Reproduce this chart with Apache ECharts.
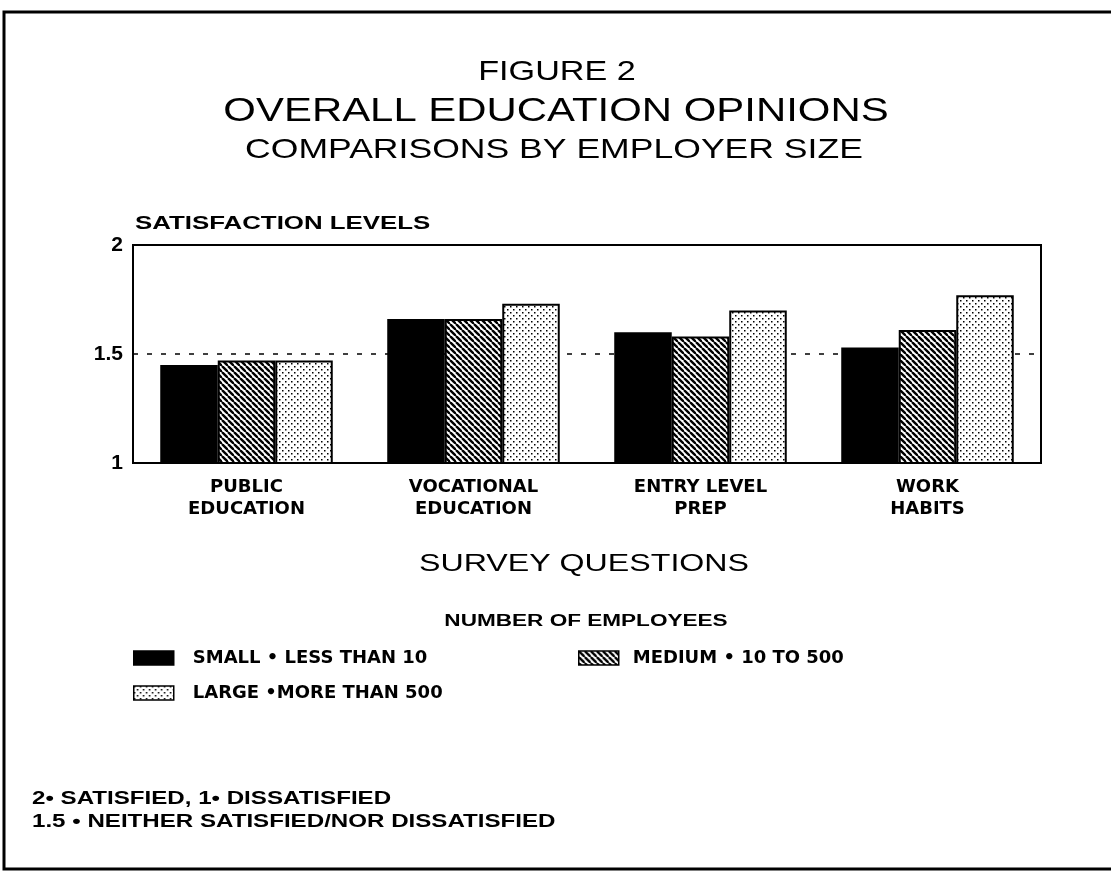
<!DOCTYPE html>
<html>
<head>
<meta charset="utf-8">
<script src="https://cdn.jsdelivr.net/npm/echarts@6/dist/echarts.min.js"></script>
<style>
  html, body { margin: 0; padding: 0; background: #fff; }
  #chart { width: 1111px; height: 872px; }
</style>
</head>
<body>
<div id="chart"></div>
<script>
// survey questions and mean satisfaction by employer size
var categories = ['PUBLIC\nEDUCATION', 'VOCATIONAL\nEDUCATION', 'ENTRY LEVEL\nPREP', 'WORK\nHABITS'];
var seriesNames = ['SMALL \u2022 LESS THAN 10', 'MEDIUM \u2022 10 TO 500', 'LARGE \u2022MORE THAN 500'];
var smallValues = [1.45, 1.66, 1.60, 1.53];
var mediumValues = [1.47, 1.66, 1.58, 1.61];
var largeValues = [1.47, 1.73, 1.70, 1.77];
var yTicks = [1, 1.5, 2];

// hatch "\\\\" for medium
function hatchPattern() {
  var c = document.createElement('canvas');
  c.width = 6; c.height = 6;
  var ctx = c.getContext('2d');
  ctx.fillStyle = '#fff';
  ctx.fillRect(0, 0, 6, 6);
  ctx.strokeStyle = '#000';
  ctx.lineWidth = 2.4;
  [-6, 0, 6].forEach(function (o) {
    ctx.beginPath();
    ctx.moveTo(o, 0);
    ctx.lineTo(o + 6, 6);
    ctx.stroke();
  });
  return c;
}

// stipple for large
function dotPattern() {
  var c = document.createElement('canvas');
  c.width = 6; c.height = 6;
  var ctx = c.getContext('2d');
  ctx.fillStyle = '#fff';
  ctx.fillRect(0, 0, 6, 6);
  ctx.fillStyle = '#000';
  ctx.fillRect(0, 0, 1.5, 1.5);
  ctx.fillRect(3, 3, 1.5, 1.5);
  return c;
}

var fills = ['#000', { image: hatchPattern(), repeat: 'repeat' }, { image: dotPattern(), repeat: 'repeat' }];
var values = [smallValues, mediumValues, largeValues];

var chart = echarts.init(document.getElementById('chart'));

var series = seriesNames.map(function (name, i) {
  return {
    name: name,
    type: 'bar',
    data: values[i],
    barGap: '0%',
    barCategoryGap: '24%',
    itemStyle: { color: fills[i], borderColor: '#000', borderWidth: 2 },
    emphasis: { disabled: true }
  };
});

function legendFor(i, left, top, pad) {
  return {
    data: [seriesNames[i]], left: left, top: top,
    icon: 'rect',
    itemWidth: 40, itemHeight: 14, itemGap: 0,
    textStyle: { color: '#000', fontFamily: 'DejaVu Sans', fontWeight: 'bold', fontSize: 18, padding: [0, 0, 0, pad] },
    selectedMode: false,
    itemStyle: { borderColor: '#000', borderWidth: 1.5 }
  };
}

// the original lettering is wide, so free text is stretched horizontally
function label(text, x, y, size, weight, sx, align) {
  return {
    type: 'text', x: x, y: y, scaleX: sx, silent: true,
    style: {
      text: text, fill: '#000', fontFamily: 'Liberation Sans', fontSize: size, fontWeight: weight,
      align: align || 'center', verticalAlign: 'middle', lineHeight: 23
    }
  };
}

var option = {
  animation: false,
  backgroundColor: '#fff',
  legend: [
    legendFor(0, 128, 644, 14),
    legendFor(1, 573, 644, 9),
    legendFor(2, 128, 679, 14)
  ],
  grid: { left: 133, right: 70, top: 245, bottom: 409, show: true, borderColor: '#000', borderWidth: 2 },
  xAxis: {
    type: 'category',
    data: categories,
    axisTick: { show: false },
    axisLine: { lineStyle: { color: '#000', width: 2 } },
    axisLabel: { color: '#000', fontFamily: 'DejaVu Sans', fontWeight: 'bold', fontSize: 18, lineHeight: 22, margin: 13 }
  },
  yAxis: {
    type: 'value',
    min: yTicks[0],
    max: yTicks[yTicks.length - 1],
    interval: 0.5,
    axisLine: { show: true, lineStyle: { color: '#000', width: 2 } },
    axisTick: { show: false },
    axisLabel: { color: '#000', fontFamily: 'Liberation Sans', fontWeight: 'bold', fontSize: 21, margin: 10,
      formatter: function (v) { return String(v); } },
    splitLine: { show: true, lineStyle: { color: '#000', type: [5, 9], width: 1.5 } }
  },
  graphic: [
    { type: 'rect', shape: { x: 4, y: 12, width: 1130, height: 857 }, style: { fill: 'none', stroke: '#000', lineWidth: 3 }, silent: true },
    label('FIGURE 2', 557, 72, 28, 'normal', 1.22),
    label('OVERALL EDUCATION OPINIONS', 556, 112, 33, 'normal', 1.27),
    label('COMPARISONS BY EMPLOYER SIZE', 554, 150, 28, 'normal', 1.27),
    label('SATISFACTION LEVELS', 135, 224, 19, 'bold', 1.36, 'left'),
    label('SURVEY QUESTIONS', 584, 564, 24, 'normal', 1.34),
    label('NUMBER OF EMPLOYEES', 586, 622, 16, 'bold', 1.41),
    label('2\u2022 SATISFIED, 1\u2022 DISSATISFIED\n1.5 \u2022 NEITHER SATISFIED/NOR DISSATISFIED', 32, 811, 18, 'bold', 1.34, 'left')
  ],
  series: series
};

chart.setOption(option);
</script>
</body>
</html>
